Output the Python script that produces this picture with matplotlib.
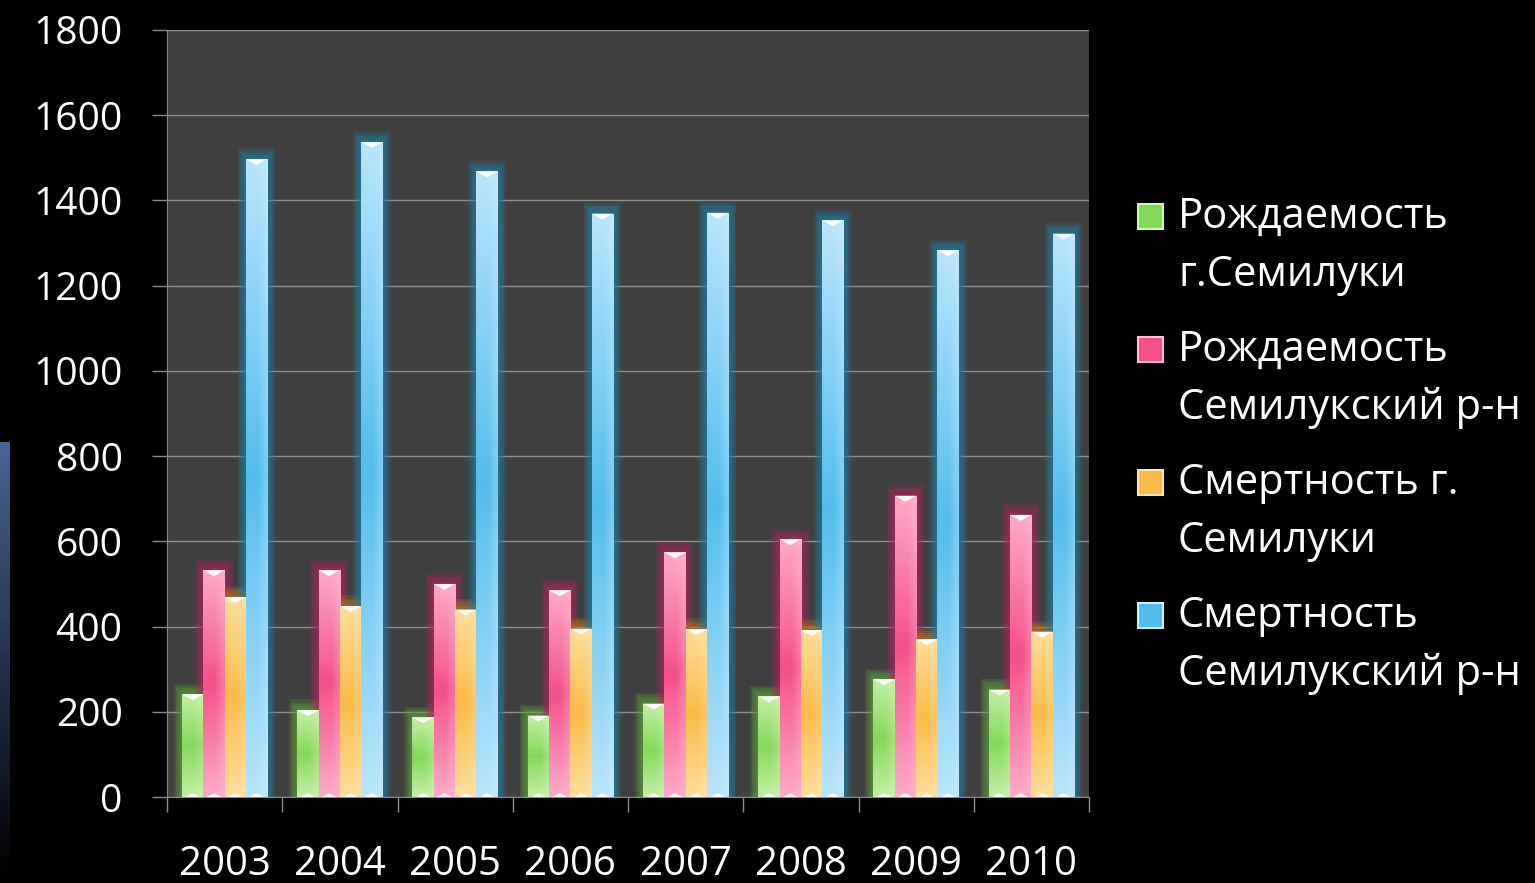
import numpy as np
import matplotlib
matplotlib.use("Agg")
import matplotlib.pyplot as plt
from matplotlib.patches import Rectangle
from matplotlib.colors import LinearSegmentedColormap, to_rgb

years = ["2003", "2004", "2005", "2006", "2007", "2008", "2009", "2010"]
birth_town = [241, 204, 187, 191, 219, 236, 276, 252]
birth_district = [532, 532, 500, 485, 574, 605, 707, 662]
death_town = [469, 448, 440, 395, 394, 392, 370, 388]
death_district = [1497, 1537, 1468, 1369, 1371, 1353, 1283, 1322]

labels = ["Рождаемость\nг.Семилуки",
          "Рождаемость\nСемилукский р-н",
          "Смертность г.\nСемилуки",
          "Смертность\nСемилукский р-н"]
# (light, saturated, glow)
colors = [("#d4f5b8", "#84d85a", "#5fa83a"),
          ("#ffc0d6", "#f4508a", "#b0245e"),
          ("#ffe6b0", "#fbbb48", "#c07a20"),
          ("#d2eeff", "#52bdec", "#1f7fa8")]

series = [birth_town, birth_district, death_town, death_district]

plt.rcParams['font.family'] = ['Open Sans', 'DejaVu Sans']

fig = plt.figure(figsize=(15.35, 8.83), dpi=100, facecolor="black")
W, H = 1535.0, 883.0

# bluish strip on the left edge of the slide
strip = fig.add_axes([0, 0, 10 / W, 0.5])
strip.imshow(np.linspace(1, 0, 100).reshape(-1, 1), aspect="auto",
             cmap=LinearSegmentedColormap.from_list("s", ["#000000", "#4a6396"]),
             extent=[0, 1, 0, 1])
strip.axis("off")

ax = fig.add_axes([167 / W, 1 - 797 / H, 922 / W, 767 / H])
ax.set_facecolor("#404040")

x = np.arange(len(years))
bw = 0.185
offsets = (np.arange(4) - 1.5) * bw

for i, vals in enumerate(series):
    light, sat, glow = colors[i]
    xs = x + offsets[i]
    # glow
    for k in range(1, 6):
        ax.bar(xs, np.array(vals) + 5 * k, width=bw + 0.028 * k, color=glow,
               alpha=0.2, zorder=2, linewidth=0)
    bars = ax.bar(xs, vals, width=bw, color=sat, zorder=3, linewidth=0)
    cmap = LinearSegmentedColormap.from_list(
        "g%d" % i, [light, sat, sat, light, "#ffffff"], N=256)
    lr = np.array(to_rgb(light))
    for rect in bars:
        x0 = rect.get_x()
        w = rect.get_width()
        h = rect.get_height()
        horiz = np.linspace(0, 1, 40).reshape(1, -1)
        # light at top, saturated middle, light near bottom; lighter right edge
        t = np.abs(np.linspace(1, -1, 200)).reshape(-1, 1)
        img = cmap(0.05 + 0.2 * (1 - t))[:, :, :3] * np.ones((1, 40, 1))
        side = np.clip((horiz - 0.55) / 0.45, 0, 1)[..., None] * 0.35
        img = img * (1 - side) + lr * side
        im = ax.imshow(img, extent=[x0, x0 + w, 0, h], aspect="auto",
                       zorder=4, interpolation="bilinear")
        im.set_clip_path(rect)
        # little white bevel notches at top and bottom
        tri_h = min(14, h * 0.3)
        ax.fill([x0, x0 + w, x0 + w / 2], [h, h, h - tri_h],
                color="white", alpha=0.9, zorder=5, linewidth=0)
        ax.fill([x0 + w * 0.15, x0 + w * 0.85, x0 + w / 2], [0, 0, 9],
                color="white", alpha=0.85, zorder=5, linewidth=0)

ax.set_xlim(-0.5, len(years) - 0.5)
ax.set_ylim(0, 1800)
ax.set_yticks(np.arange(0, 1801, 200))
ax.yaxis.grid(True, color="#8c8c8c", linewidth=1.0, zorder=1)
ax.set_axisbelow(True)

ax.set_xticks(x)
ax.set_xticklabels(years)
ax.set_xticks(np.arange(-0.5, len(years)), minor=True)
ax.tick_params(axis="x", which="major", length=0, pad=34, labelsize=29,
               labelcolor="white")
ax.tick_params(axis="x", which="minor", length=11, color="#8c8c8c", width=1)
ax.tick_params(axis="y", length=11, color="#8c8c8c", width=1, pad=21,
               labelsize=28, labelcolor="white")

for side in ["top", "right"]:
    ax.spines[side].set_visible(False)
for side in ["left", "bottom"]:
    ax.spines[side].set_color("#8c8c8c")

# legend drawn by hand: marker aligned with the first line of each entry
for i, lab in enumerate(labels):
    y0 = 217 + 133 * i
    fig.patches.append(Rectangle((1138 / W, 1 - (y0 + 12) / H), 25 / W, 25 / H,
                                 transform=fig.transFigure,
                                 facecolor=colors[i][1],
                                 edgecolor=colors[i][0], linewidth=1.5))
    for j, line in enumerate(lab.split("\n")):
        fig.text(1178 / W, 1 - (y0 + 58 * j) / H, line, color="white",
                 fontsize=30, va="center", ha="left")

fig.savefig("out.png", dpi=100, facecolor="black")
